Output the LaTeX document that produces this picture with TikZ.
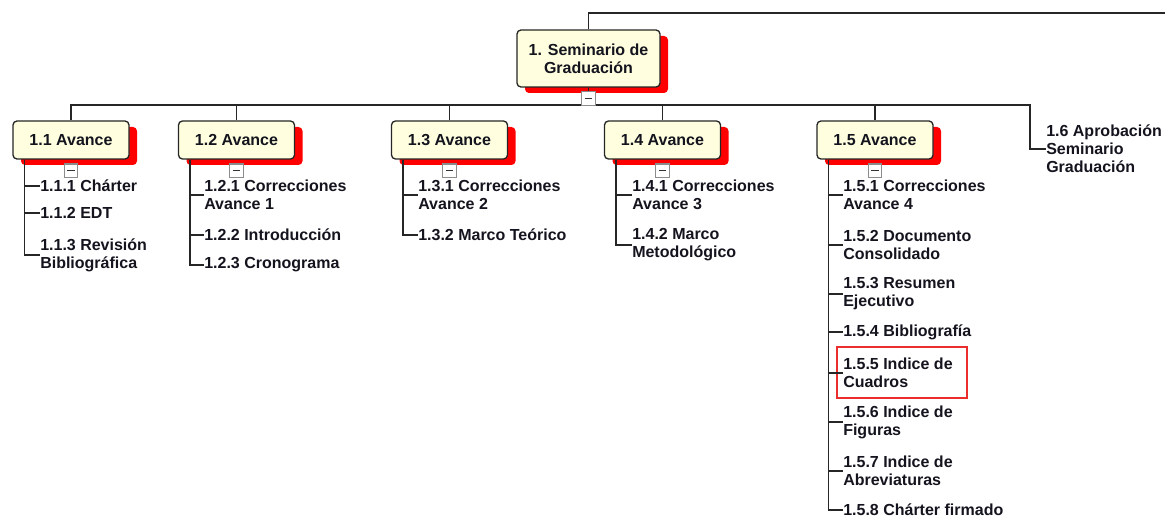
\documentclass[tikz,border=0pt]{standalone}
\usepackage{fontspec}
\setmainfont{Liberation Sans}
\usetikzlibrary{shadows,calc}
\definecolor{boxfill}{RGB}{255,255,224}
\definecolor{ink}{RGB}{20,20,30}
\definecolor{hilite}{RGB}{235,45,45}
\begin{document}
\begin{tikzpicture}[x=0.75pt,y=-0.75pt,
  txt/.style={font=\bfseries\fontsize{12}{13.5}\selectfont, text=ink},
  wbs/.style={txt, draw=black!85, line width=1pt, fill=boxfill, rounded corners=3pt,
    align=center, inner sep=2pt,
    drop shadow={shadow xshift=6pt, shadow yshift=-4.5pt, fill=red, opacity=1, draw=none}},
  lvl2/.style={wbs, minimum width=87pt, minimum height=28.5pt},
  leaf/.style={txt, anchor=west, inner sep=0pt, align=left},
  link/.style={draw=black!85, line width=1pt},
  toggle/.style={draw=black!45, fill=white, minimum size=10pt, inner sep=0pt, line width=0.8pt,
    path picture={\draw[black!80, line width=1.1pt]
      ([xshift=2.2pt]path picture bounding box.west) -- ([xshift=-2.2pt]path picture bounding box.east);}}
]
\useasboundingbox (0,0) rectangle (1165,517);

% summary boxes
\node[wbs, minimum width=107.25pt, minimum height=42.75pt] (root) at (588.5,58.5) {1. Seminario de\\Graduación};
\node[lvl2] (b11) at (71,140) {1.1 Avance};
\node[lvl2] (b12) at (236.5,140) {1.2 Avance};
\node[lvl2] (b13) at (449.5,140) {1.3 Avance};
\node[lvl2] (b14) at (662.5,140) {1.4 Avance};
\node[lvl2] (b15) at (875,140) {1.5 Avance};

% work packages
\node[leaf] (c111) at (40,186) {1.1.1 Chárter};
\node[leaf] (c112) at (40,213) {1.1.2 EDT};
\node[leaf] (c113) at (40,255) {1.1.3 Revisión\\Bibliográfica};

\node[leaf] (c121) at (204,195) {1.2.1 Correcciones\\Avance 1};
\node[leaf] (c122) at (204,235) {1.2.2 Introducción};
\node[leaf] (c123) at (204,265) {1.2.3 Cronograma};

\node[leaf] (c131) at (418,195) {1.3.1 Correcciones\\Avance 2};
\node[leaf] (c132) at (418,235) {1.3.2 Marco Teórico};

\node[leaf] (c141) at (632,195) {1.4.1 Correcciones\\Avance 3};
\node[leaf] (c142) at (632,245) {1.4.2 Marco\\Metodológico};

\node[leaf] (c151) at (843,195) {1.5.1 Correcciones\\Avance 4};
\node[leaf] (c152) at (843,245) {1.5.2 Documento\\Consolidado};
\node[leaf] (c153) at (843,294) {1.5.3 Resumen\\Ejecutivo};
\node[leaf] (c154) at (843,332) {1.5.4 Bibliografía};
\node[leaf] (c155) at (843,373) {1.5.5 Indice de\\Cuadros};
\node[leaf] (c156) at (843,422) {1.5.6 Indice de\\Figuras};
\node[leaf] (c157) at (843,471) {1.5.7 Indice de\\Abreviaturas};
\node[leaf] (c158) at (843,510) {1.5.8 Chárter firmado};

\node[leaf] (c16) at (1046,149) {1.6 Aprobación\\Seminario\\Graduación};

% highlight frame
\draw[hilite, line width=0.8pt] (837,347) rectangle (967,398);

% upper connectors
\coordinate (up) at (1165,13);
\coordinate (bus) at (588.5,105);
\coordinate (busR) at (1030,105);
\draw[link] (root.north) |- (up);
\draw[link] (root.south) -- (bus);
\draw[link] (b11.north) -- (b11.north |- bus) -- (busR) |- (c16.west);
\draw[link] (b12.north) -- (b12.north |- bus);
\draw[link] (b13.north) -- (b13.north |- bus);
\draw[link] (b14.north) -- (b14.north |- bus);
\draw[link] (b15.north) -- (b15.north |- bus);

% lower connectors
\coordinate (v11) at ($(b11.south west)+(12,0)$);
\draw[link] (v11) |- (c113.west);
\draw[link] (v11 |- c111.west) -- (c111.west);
\draw[link] (v11 |- c112.west) -- (c112.west);

\coordinate (v12) at ($(b12.south west)+(12,0)$);
\draw[link] (v12) |- (c123.west);
\draw[link] (v12 |- c121.west) -- (c121.west);
\draw[link] (v12 |- c122.west) -- (c122.west);

\coordinate (v13) at ($(b13.south west)+(12,0)$);
\draw[link] (v13) |- (c132.west);
\draw[link] (v13 |- c131.west) -- (c131.west);

\coordinate (v14) at ($(b14.south west)+(12,0)$);
\draw[link] (v14) |- (c142.west);
\draw[link] (v14 |- c141.west) -- (c141.west);

\coordinate (v15) at ($(b15.south west)+(12,0)$);
\draw[link] (v15) |- (c158.west);
\draw[link] (v15 |- c151.west) -- (c151.west);
\draw[link] (v15 |- c152.west) -- (c152.west);
\draw[link] (v15 |- c153.west) -- (c153.west);
\draw[link] (v15 |- c154.west) -- (c154.west);
\draw[link] (v15 |- c155.west) -- (c155.west);
\draw[link] (v15 |- c156.west) -- (c156.west);
\draw[link] (v15 |- c157.west) -- (c157.west);

% collapse toggles
\node[toggle] (t0) at (588.5,98.5) {};
\node[toggle] (t11) at ($(b11.south)+(0,11)$) {};
\node[toggle] (t12) at ($(b12.south)+(0,11)$) {};
\node[toggle] (t13) at ($(b13.south)+(0,11)$) {};
\node[toggle] (t14) at ($(b14.south)+(0,11)$) {};
\node[toggle] (t15) at ($(b15.south)+(0,11)$) {};
\end{tikzpicture}
\end{document}
